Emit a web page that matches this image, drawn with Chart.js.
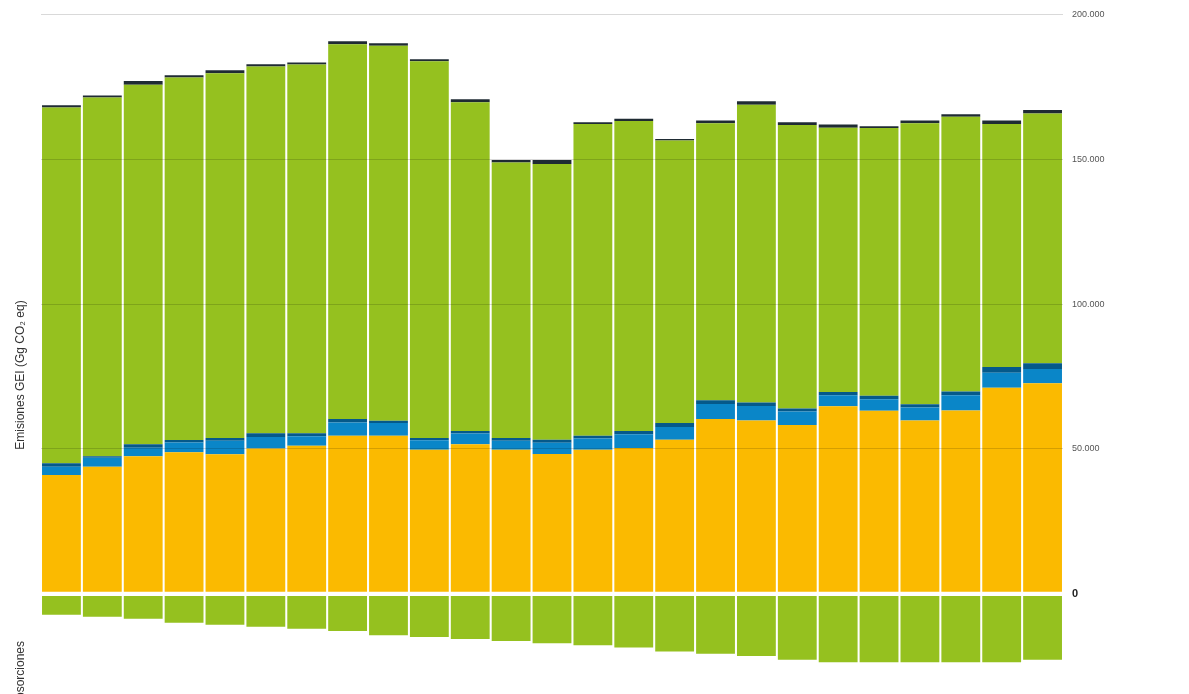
<!DOCTYPE html>
<html lang="es">
<head>
    <meta charset="UTF-8">
    <title>Emisiones y absorciones GEI</title>
    <script src="https://cdn.jsdelivr.net/npm/chart.js"></script>
    <style>
        html, body { margin: 0; padding: 0; background: #fff; }
        .chart-box { width: 1189px; height: 694px; position: relative; }
    </style>
</head>
<body>
    <div class="chart-box">
        <canvas id="geiChart"></canvas>
    </div>

    <script>
        // años del inventario (eje x oculto en el original)
        const years = ['1990','1991','1992','1993','1994','1995','1996','1997','1998','1999','2000','2001','2002',
                       '2003','2004','2005','2006','2007','2008','2009','2010','2011','2012','2013','2014'];

        // valores en Gg CO2 eq
        const energia = [41000,43900,47500,48900,48200,50200,51100,54600,54600,49700,51600,49700,48300,
                         49700,50300,53200,60300,59800,58300,64700,63200,59800,63300,71100,72700];
        const procesos = [2900,3100,2900,3300,4600,3900,3300,4500,4400,3300,3700,3100,3800,
                          3900,4800,4400,5200,5000,4600,3800,4000,4500,5200,5200,4900];
        const solventes = [1200,500,1200,900,1000,1300,1000,1200,700,800,900,1000,1100,
                           1000,1100,1400,1300,1200,1100,1200,1200,1100,1300,2000,2000];
        const agricultura = [122800,123800,124100,125100,125900,126600,127300,129400,129500,130000,113500,95100,95200,
                             107600,107000,97500,95600,102800,97800,91200,92400,97000,94900,83900,86200];
        const residuos = [700,700,1300,800,1000,800,700,1000,800,700,1000,800,1300,
                          600,800,500,1000,1200,1000,1100,600,1000,800,1200,1200];
        const absorciones = [-7200,-7900,-8600,-10000,-10700,-11400,-12100,-12800,-14300,-14900,-15600,-16300,-17100,
                             -17800,-18500,-19900,-20700,-21500,-22800,-23600,-23600,-23600,-23600,-23600,-22800];

        const yTicks = [0, 50000, 100000, 150000, 200000];

        function fmt(v) {
            return String(v).replace(/\B(?=(\d{3})+(?!\d))/g, '.');
        }

        function isZero(c) {
            return !!(c && c.tick && c.tick.value === 0);
        }

        // textos del eje izquierdo
        const sideLabels = {
            id: 'sideLabels',
            afterDraw(chart) {
                const c = chart.ctx;
                c.save();
                c.fillStyle = '#333';
                c.font = '12px "Liberation Sans", Arial, sans-serif';
                c.textAlign = 'center';
                c.textBaseline = 'middle';
                c.translate(21, 375);
                c.rotate(-Math.PI / 2);
                c.fillText('Emisiones GEI (Gg CO\u2082 eq)', 0, 0);
                c.restore();

                c.save();
                c.fillStyle = '#333';
                c.font = '12px "Liberation Sans", Arial, sans-serif';
                c.textAlign = 'right';
                c.textBaseline = 'middle';
                c.translate(21, 641);
                c.rotate(-Math.PI / 2);
                c.fillText('Absorciones', 0, 0);
                c.restore();
            }
        };

        const ctx = document.getElementById('geiChart').getContext('2d');
        new Chart(ctx, {
            type: 'bar',
            data: {
                labels: years,
                datasets: [
                    { label: 'Energía', data: energia, backgroundColor: '#fbba00' },
                    { label: 'Procesos industriales', data: procesos, backgroundColor: '#0a86c8' },
                    { label: 'Uso de productos', data: solventes, backgroundColor: '#05598a' },
                    { label: 'Agricultura', data: agricultura, backgroundColor: '#95c11f' },
                    { label: 'Residuos', data: residuos, backgroundColor: '#1f2b33' },
                    { label: 'Absorciones', data: absorciones, backgroundColor: '#95c11f' }
                ]
            },
            options: {
                responsive: true,
                maintainAspectRatio: false,
                animation: false,
                layout: { padding: { left: 41, top: 12, bottom: 0 } },
                datasets: {
                    bar: { barPercentage: 0.95, categoryPercentage: 1.0, borderWidth: 0 }
                },
                plugins: {
                    legend: { display: false },
                    tooltip: { enabled: false }
                },
                scales: {
                    x: {
                        stacked: true,
                        display: false
                    },
                    y: {
                        stacked: true,
                        position: 'right',
                        min: -29200,
                        max: 200000,
                        afterBuildTicks(scale) {
                            scale.ticks = yTicks.map(v => ({ value: v }));
                        },
                        afterFit(scale) {
                            scale.width = 126;
                        },
                        border: { display: false },
                        grid: {
                            z: 1,
                            drawTicks: false,
                            color: c => isZero(c) ? '#ffffff' : 'rgba(0,0,0,0.15)',
                            lineWidth: c => isZero(c) ? 4 : 1
                        },
                        ticks: {
                            padding: 9,
                            color: c => isZero(c) ? '#222' : '#555',
                            font: c => isZero(c)
                                ? { family: '"Liberation Sans", Arial, sans-serif', size: 11, weight: 'bold' }
                                : { family: '"Liberation Sans", Arial, sans-serif', size: 9 },
                            callback: v => fmt(v)
                        }
                    }
                }
            },
            plugins: [sideLabels]
        });
    </script>
</body>
</html>
